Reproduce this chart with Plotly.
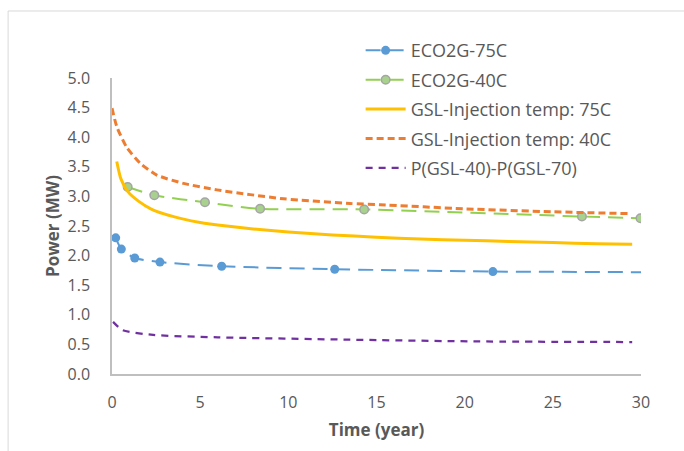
import plotly.graph_objects as go

# ECO2G-75C (markers at every point except the final line end at 30)
eco75_x = [0.21, 0.53, 1.29, 2.72, 6.22, 12.63, 21.6]
eco75_y = [2.30, 2.11, 1.96, 1.89, 1.82, 1.77, 1.73]
eco75_tail_x = [21.6, 30.0]
eco75_tail_y = [1.73, 1.72]
# ECO2G-40C
eco40_x = [0.89, 2.40, 5.27, 8.40, 14.3, 26.65, 29.97]
eco40_y = [3.16, 3.02, 2.90, 2.79, 2.78, 2.66, 2.63]
# GSL-Injection temp: 75C
gsl75_x = [0.27, 0.5, 0.9, 1.5, 2.2, 3, 4, 5, 6.5, 8, 10, 12.5, 15, 17.5, 20, 22.5, 25, 27.5, 29.5]
gsl75_y = [3.59, 3.30, 3.08, 2.92, 2.79, 2.70, 2.62, 2.56, 2.50, 2.45, 2.40, 2.35, 2.31, 2.28, 2.26, 2.24, 2.22, 2.20, 2.19]
# GSL-Injection temp: 40C
gsl40_x = [0.0, 0.27, 0.83, 1.6, 2.54, 4.05, 5.95, 7.84, 9.73, 13.5, 15.2, 20, 25, 29.3]
gsl40_y = [4.49, 4.18, 3.83, 3.56, 3.36, 3.22, 3.11, 3.03, 2.96, 2.88, 2.86, 2.79, 2.74, 2.71]
# P(GSL-40)-P(GSL-70)
diff_x = [0.06, 0.6, 2.33, 6.0, 13.4, 20.8, 29.5]
diff_y = [0.88, 0.74, 0.66, 0.62, 0.58, 0.55, 0.54]

x_ticks = [0, 5, 10, 15, 20, 25, 30]
y_ticks = [0.0, 0.5, 1.0, 1.5, 2.0, 2.5, 3.0, 3.5, 4.0, 4.5, 5.0]

FONT = "Open Sans"
GREY = "#595959"
BLUE = "#5B9BD5"

fig = go.Figure()
fig.add_trace(go.Scatter(
    x=eco75_x, y=eco75_y, name="ECO2G-75C", mode="lines+markers",
    line=dict(color=BLUE, width=2, dash="15px,8px", shape="spline", smoothing=0.6),
    marker=dict(color=BLUE, size=9),
    legendgroup="a"))
fig.add_trace(go.Scatter(
    x=eco75_tail_x, y=eco75_tail_y, name="ECO2G-75C", mode="lines",
    line=dict(color=BLUE, width=2, dash="15px,8px"),
    legendgroup="a", showlegend=False))
fig.add_trace(go.Scatter(
    x=eco40_x, y=eco40_y, name="ECO2G-40C", mode="lines+markers",
    line=dict(color="#92D050", width=2, dash="15px,8px", shape="spline", smoothing=0.6),
    marker=dict(color="#A9D18E", size=8.5, line=dict(color="#A5A5A5", width=1.5)),
    legendgroup="b"))
fig.add_trace(go.Scatter(
    x=gsl75_x, y=gsl75_y, name="GSL-Injection temp: 75C", mode="lines",
    line=dict(color="#FFC000", width=3, shape="spline", smoothing=0.6),
    legendgroup="c"))
fig.add_trace(go.Scatter(
    x=gsl40_x, y=gsl40_y, name="GSL-Injection temp: 40C", mode="lines",
    line=dict(color="#ED7D31", width=3, dash="7px,4px", shape="spline", smoothing=0.6),
    legendgroup="d"))
fig.add_trace(go.Scatter(
    x=diff_x, y=diff_y, name="P(GSL-40)-P(GSL-70)", mode="lines",
    line=dict(color="#7030A0", width=2.25, dash="7px,6px", shape="spline", smoothing=0.6),
    legendgroup="e"))

fig.update_layout(
    width=684, height=451,
    margin=dict(l=112, r=43, t=78, b=77),
    paper_bgcolor="white", plot_bgcolor="white",
    font=dict(family=FONT, size=16, color=GREY),
    showlegend=True,
    legend=dict(x=0.4700, y=1.155, xanchor="left", yanchor="top",
                bgcolor="rgba(0,0,0,0)", font=dict(size=18, color=GREY),
                tracegroupgap=3, itemwidth=40, traceorder="grouped"),
    xaxis=dict(range=[0, 30], tickvals=x_ticks, ticktext=[str(v) for v in x_ticks],
               showgrid=False, zeroline=False, showline=True, linecolor="#BFBFBF", linewidth=1.5,
               ticks="", ticklabelstandoff=13, tickfont=dict(size=16, color=GREY),
               title=dict(text="<b>Time (year)</b>", font=dict(size=17, color=GREY), standoff=12)),
    yaxis=dict(range=[0, 5], tickvals=y_ticks, ticktext=[f"{v:.1f}" for v in y_ticks],
               showgrid=False, zeroline=False, showline=True, linecolor="#BFBFBF", linewidth=1.5,
               ticks="", ticklabelstandoff=17, tickfont=dict(size=16, color=GREY),
               title=dict(text="<b>Power (MW)</b>", font=dict(size=17, color=GREY), standoff=4)),
    shapes=[dict(type="rect", xref="paper", yref="paper",
                 x0=-0.1964, x1=1.5, y0=-0.6, y1=1.2264,
                 line=dict(color="#D9D9D9", width=1), fillcolor="rgba(0,0,0,0)", layer="below")],
)

fig.write_html("out.html")
